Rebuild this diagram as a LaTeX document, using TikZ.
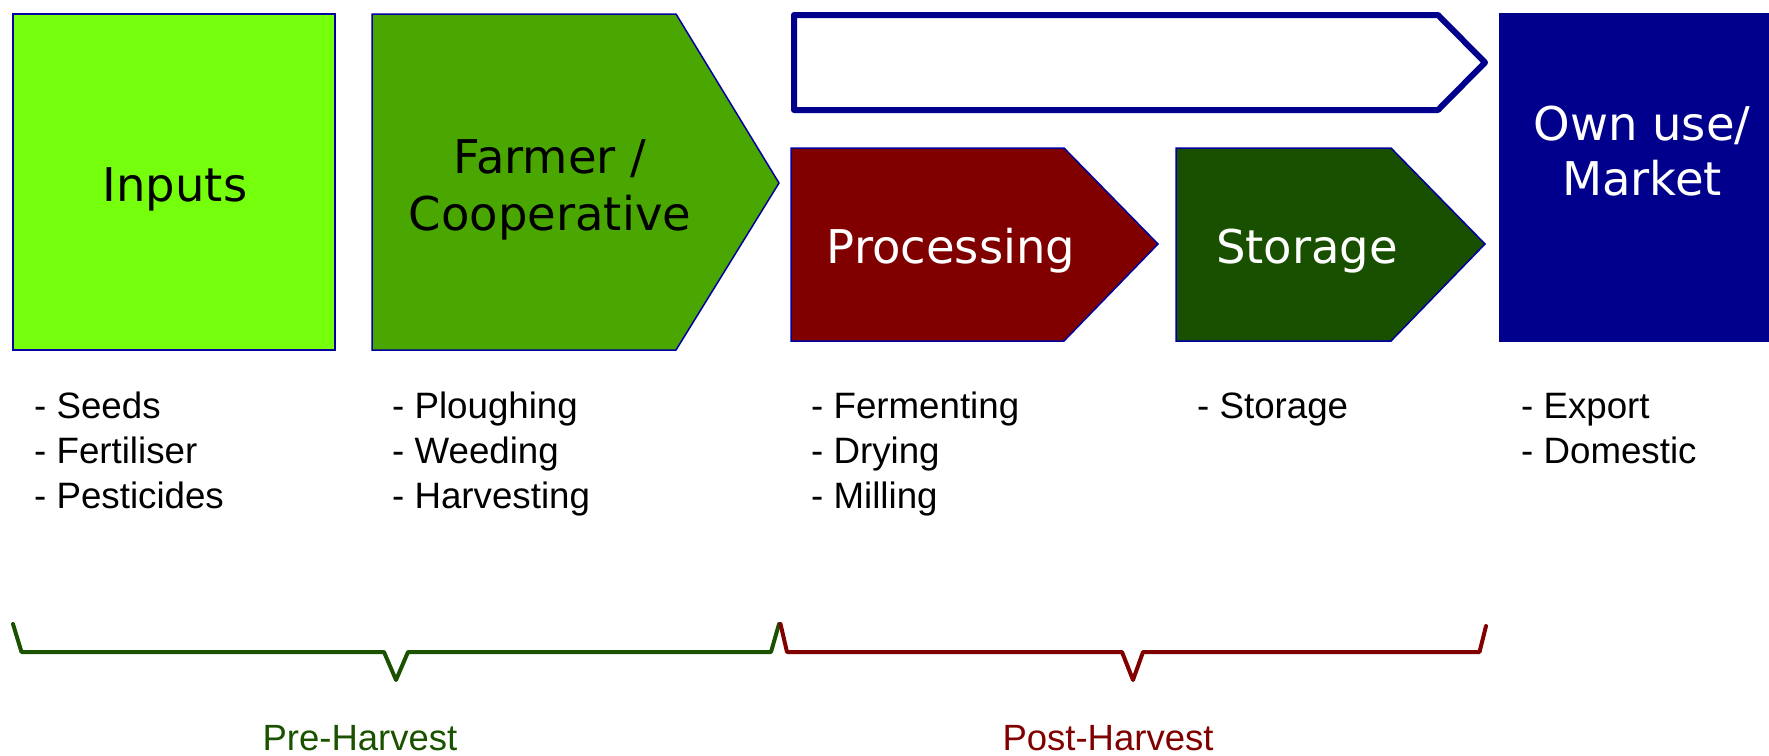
\documentclass[tikz,border=0pt]{standalone}
\usepackage{fontspec}
\setmainfont{Liberation Sans}
\newfontfamily\vfont{DejaVu Sans}
\definecolor{inputsG}{RGB}{118,255,13}
\definecolor{farmG}{RGB}{74,166,0}
\definecolor{procR}{RGB}{128,0,0}
\definecolor{storG}{RGB}{24,80,0}
\definecolor{navy}{RGB}{0,0,140}
\definecolor{edgeB}{RGB}{0,0,160}
\definecolor{preG}{RGB}{26,82,0}
\begin{document}
\begin{tikzpicture}[x=1pt,y=-1pt,
  stage/.style={draw=edgeB, line width=1.5pt, line join=miter},
  big/.style={font=\vfont\fontsize{46.5}{56}\selectfont, inner sep=0pt, anchor=base},
  item/.style={font=\fontsize{36.7}{45}\selectfont, inner sep=0pt, anchor=base west},
  bracepath/.style={line width=4pt, line join=round, line cap=round},
  phase/.style={font=\fontsize{36.5}{44}\selectfont, inner sep=0pt, anchor=base}]
\useasboundingbox (0,0) rectangle (1769,755);
% stages
\draw[stage, fill=inputsG] (13,14) rectangle (335,350);
\draw[stage, fill=farmG] (372,14) -- (676,14) -- (779,183) -- (676,350) -- (372,350) -- cycle;
\draw[navy, line width=6pt, line join=round, fill=white] (794,15) -- (1438,15) -- (1485,62.5) -- (1438,110) -- (794,110) -- cycle;
\draw[stage, fill=procR] (791,148) -- (1064,148) -- (1158,244) -- (1064,341) -- (791,341) -- cycle;
\draw[stage, fill=storG] (1176,148) -- (1391,148) -- (1485,244) -- (1391,341) -- (1176,341) -- cycle;
\fill[navy] (1499,13) rectangle (1790,342);
% stage labels
\node[big] (inputs) at (175,201.7) {Inputs};
\node[big] (farmer) at (550,173) {Farmer /};
\node[big] (coop) at (550,230) {Cooperative};
\node[big, text=white] (proc) at (951,263) {Processing};
\node[big, text=white] (stor) at (1307,263) {Storage};
\node[big, text=white] (own) at (1642,140) {Own use/};
\node[big, text=white] (market) at (1642,195.5) {Market};
% item lists
\node[item] (seeds) at (34,418) {- Seeds};
\node[item] (fert) at (34,463) {- Fertiliser};
\node[item] (pest) at (34,508) {- Pesticides};
\node[item] (plough) at (392,418) {- Ploughing};
\node[item] (weed) at (392,463) {- Weeding};
\node[item] (harv) at (392,508) {- Harvesting};
\node[item] (ferm) at (811,418) {- Fermenting};
\node[item] (dry) at (811,463) {- Drying};
\node[item] (mill) at (811,508) {- Milling};
\node[item] (storitem) at (1197,418) {- Storage};
\node[item] (export) at (1521,418) {- Export};
\node[item] (domestic) at (1521,463) {- Domestic};
% braces
\draw[bracepath, preG] (13,624) -- (21.5,652) -- (384,652) -- (396,680) -- (408,652) -- (771,652) -- (779,624);
\draw[bracepath, procR] (780.5,624) -- (787,652) -- (1122,652) -- (1133,680) -- (1143,652) -- (1479.5,652) -- (1486,626);
\node[phase, text=preG] (pre) at (360,750) {Pre-Harvest};
\node[phase, text=procR] (post) at (1108,750) {Post-Harvest};
\end{tikzpicture}
\end{document}
